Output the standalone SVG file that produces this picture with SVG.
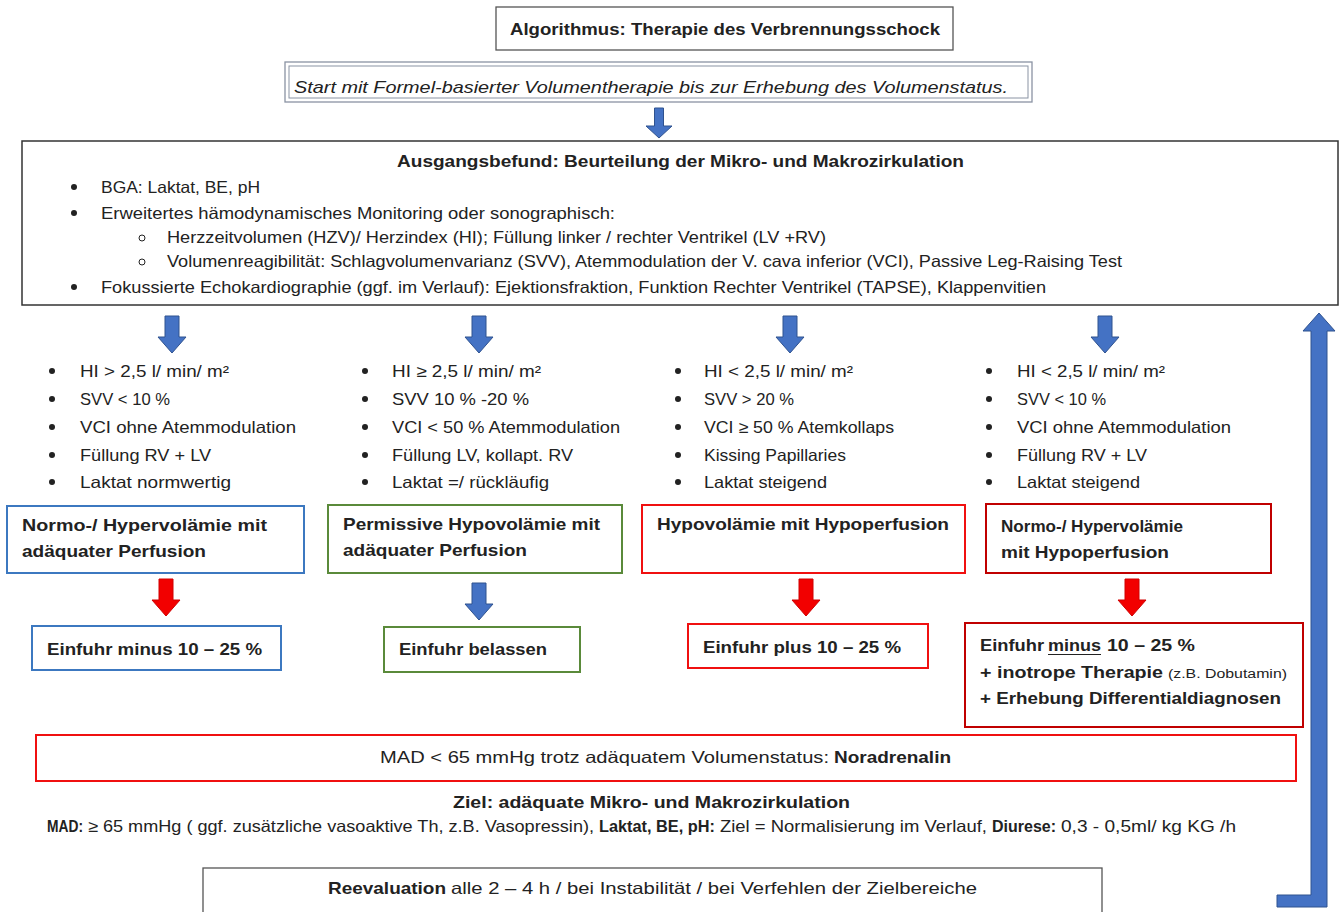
<svg xmlns="http://www.w3.org/2000/svg" width="1341" height="912" viewBox="0 0 1341 912">
<style>
.t{font-family:"Liberation Sans",Arial,sans-serif;font-size:16.5px;fill:#222}
.b{font-weight:bold}
.i{font-style:italic}
.s{font-size:12px}
.blue{stroke:#3c78c0;stroke-width:2;fill:#fff}
.green{stroke:#5a8a3a;stroke-width:2;fill:#fff}
.red{stroke:#f01010;stroke-width:2;fill:#fff}
.dred{stroke:#c00000;stroke-width:2;fill:#fff}
.ab{fill:#4472c4;stroke:#2f528f;stroke-width:1}
.ar{fill:#f20000;stroke:#d00000;stroke-width:1}
.dot{fill:#222}
.ring{fill:none;stroke:#222;stroke-width:1}
</style>
<defs>
<path id="down" d="M-7,0 H7 V21 H14 L0,37 L-14,21 H-7 Z"/>
</defs>
<rect width="1341" height="912" fill="#fff"/>

<g id="connectors">
<path class="ab" d="M654.5,108 H663.5 V126 H672 L659,138 L646,126 H654.5 Z"/>
<use href="#down" class="ab" x="172" y="316"/>
<use href="#down" class="ab" x="479" y="316"/>
<use href="#down" class="ab" x="790" y="316"/>
<use href="#down" class="ab" x="1105" y="316"/>
<use href="#down" class="ar" x="166" y="579"/>
<use href="#down" class="ab" x="479" y="583"/>
<use href="#down" class="ar" x="806" y="579"/>
<use href="#down" class="ar" x="1132" y="579"/>
<path class="ab" d="M1277,895 H1311 V331 H1303 L1319,313 L1335,331 H1327 V907 H1277 Z"/>
</g>

<g id="title">
<rect x="496" y="7" width="457" height="43" fill="#fff" stroke="#555" stroke-width="1.3"/>
<text class="t b" x="510" y="35" textLength="430" lengthAdjust="spacingAndGlyphs">Algorithmus: Therapie des Verbrennungsschock</text>
</g>

<g id="start">
<rect x="285" y="62" width="747" height="40" fill="#fff" stroke="#8a93a3" stroke-width="1.3"/>
<rect x="289" y="66" width="739" height="32" fill="none" stroke="#8a93a3" stroke-width="1"/>
<text class="t i" x="294" y="93" textLength="714" lengthAdjust="spacingAndGlyphs">Start mit Formel-basierter Volumentherapie bis zur Erhebung des Volumenstatus.</text>
</g>

<g id="ausgangsbefund">
<rect x="22" y="141" width="1316" height="164" fill="#fff" stroke="#333" stroke-width="1.5"/>
<text class="t b" x="397" y="167" textLength="567" lengthAdjust="spacingAndGlyphs">Ausgangsbefund: Beurteilung der Mikro- und Makrozirkulation</text>
<circle class="dot" cx="74" cy="187" r="3"/>
<text class="t" x="101" y="193" textLength="159" lengthAdjust="spacingAndGlyphs">BGA: Laktat, BE, pH</text>
<circle class="dot" cx="74" cy="213" r="3"/>
<text class="t" x="101" y="219" textLength="514" lengthAdjust="spacingAndGlyphs">Erweitertes hämodynamisches Monitoring oder sonographisch:</text>
<circle class="ring" cx="142" cy="238" r="3"/>
<text class="t" x="167" y="243" textLength="659" lengthAdjust="spacingAndGlyphs">Herzzeitvolumen (HZV)/ Herzindex (HI); Füllung linker / rechter Ventrikel (LV +RV)</text>
<circle class="ring" cx="142" cy="262" r="3"/>
<text class="t" x="167" y="267" textLength="955" lengthAdjust="spacingAndGlyphs">Volumenreagibilität:  Schlagvolumenvarianz (SVV), Atemmodulation der V. cava inferior (VCI), Passive Leg-Raising Test</text>
<circle class="dot" cx="74" cy="287" r="3"/>
<text class="t" x="101" y="293" textLength="945" lengthAdjust="spacingAndGlyphs">Fokussierte Echokardiographie (ggf. im Verlauf): Ejektionsfraktion, Funktion Rechter Ventrikel (TAPSE), Klappenvitien</text>
</g>

<g id="list1">
<circle class="dot" cx="52" cy="371" r="3"/><text class="t" x="80" y="377" textLength="149" lengthAdjust="spacingAndGlyphs">HI &gt; 2,5 l/ min/ m²</text>
<circle class="dot" cx="52" cy="399" r="3"/><text class="t" x="80" y="405" textLength="90" lengthAdjust="spacingAndGlyphs">SVV &lt; 10 %</text>
<circle class="dot" cx="52" cy="427" r="3"/><text class="t" x="80" y="433" textLength="216" lengthAdjust="spacingAndGlyphs">VCI ohne Atemmodulation</text>
<circle class="dot" cx="52" cy="455" r="3"/><text class="t" x="80" y="461" textLength="131" lengthAdjust="spacingAndGlyphs">Füllung RV + LV</text>
<circle class="dot" cx="52" cy="482" r="3"/><text class="t" x="80" y="488" textLength="151" lengthAdjust="spacingAndGlyphs">Laktat normwertig</text>
</g>
<g id="list2">
<circle class="dot" cx="365" cy="371" r="3"/><text class="t" x="392" y="377" textLength="149" lengthAdjust="spacingAndGlyphs">HI ≥ 2,5 l/ min/ m²</text>
<circle class="dot" cx="365" cy="399" r="3"/><text class="t" x="392" y="405" textLength="137" lengthAdjust="spacingAndGlyphs">SVV  10 % -20 %</text>
<circle class="dot" cx="365" cy="427" r="3"/><text class="t" x="392" y="433" textLength="228" lengthAdjust="spacingAndGlyphs">VCI &lt; 50 % Atemmodulation</text>
<circle class="dot" cx="365" cy="455" r="3"/><text class="t" x="392" y="461" textLength="181" lengthAdjust="spacingAndGlyphs">Füllung LV, kollapt. RV</text>
<circle class="dot" cx="365" cy="482" r="3"/><text class="t" x="392" y="488" textLength="157" lengthAdjust="spacingAndGlyphs">Laktat =/ rückläufig</text>
</g>
<g id="list3">
<circle class="dot" cx="678" cy="371" r="3"/><text class="t" x="704" y="377" textLength="149" lengthAdjust="spacingAndGlyphs">HI &lt; 2,5 l/ min/ m²</text>
<circle class="dot" cx="678" cy="399" r="3"/><text class="t" x="704" y="405" textLength="90" lengthAdjust="spacingAndGlyphs">SVV &gt; 20 %</text>
<circle class="dot" cx="678" cy="427" r="3"/><text class="t" x="704" y="433" textLength="190" lengthAdjust="spacingAndGlyphs">VCI ≥ 50 % Atemkollaps</text>
<circle class="dot" cx="678" cy="455" r="3"/><text class="t" x="704" y="461" textLength="142" lengthAdjust="spacingAndGlyphs">Kissing Papillaries</text>
<circle class="dot" cx="678" cy="482" r="3"/><text class="t" x="704" y="488" textLength="123" lengthAdjust="spacingAndGlyphs">Laktat steigend</text>
</g>
<g id="list4">
<circle class="dot" cx="989" cy="371" r="3"/><text class="t" x="1017" y="377" textLength="148" lengthAdjust="spacingAndGlyphs">HI &lt; 2,5 l/ min/ m²</text>
<circle class="dot" cx="989" cy="399" r="3"/><text class="t" x="1017" y="405" textLength="89" lengthAdjust="spacingAndGlyphs">SVV &lt; 10 %</text>
<circle class="dot" cx="989" cy="427" r="3"/><text class="t" x="1017" y="433" textLength="214" lengthAdjust="spacingAndGlyphs">VCI ohne Atemmodulation</text>
<circle class="dot" cx="989" cy="455" r="3"/><text class="t" x="1017" y="461" textLength="130" lengthAdjust="spacingAndGlyphs">Füllung RV + LV</text>
<circle class="dot" cx="989" cy="482" r="3"/><text class="t" x="1017" y="488" textLength="123" lengthAdjust="spacingAndGlyphs">Laktat steigend</text>
</g>

<g id="state1">
<rect class="blue" x="7" y="506" width="297" height="67"/>
<text class="t b" x="22" y="531" textLength="245" lengthAdjust="spacingAndGlyphs">Normo-/ Hypervolämie mit</text>
<text class="t b" x="22" y="557" textLength="184" lengthAdjust="spacingAndGlyphs">adäquater Perfusion</text>
</g>
<g id="state2">
<rect class="green" x="328" y="505" width="294" height="68"/>
<text class="t b" x="343" y="530" textLength="257" lengthAdjust="spacingAndGlyphs">Permissive Hypovolämie mit</text>
<text class="t b" x="343" y="556" textLength="184" lengthAdjust="spacingAndGlyphs">adäquater Perfusion</text>
</g>
<g id="state3">
<rect class="red" x="642" y="505" width="323" height="68"/>
<text class="t b" x="657" y="530" textLength="292" lengthAdjust="spacingAndGlyphs">Hypovolämie mit Hypoperfusion</text>
</g>
<g id="state4">
<rect class="dred" x="986" y="504" width="285" height="69"/>
<text class="t b" x="1001" y="532" textLength="182" lengthAdjust="spacingAndGlyphs">Normo-/ Hypervolämie</text>
<text class="t b" x="1001" y="558" textLength="168" lengthAdjust="spacingAndGlyphs">mit Hypoperfusion</text>
</g>

<g id="action1">
<rect class="blue" x="32" y="626" width="249" height="44"/>
<text class="t b" x="47" y="655" textLength="215" lengthAdjust="spacingAndGlyphs">Einfuhr minus 10 – 25 %</text>
</g>
<g id="action2">
<rect class="green" x="384" y="627" width="196" height="45"/>
<text class="t b" x="399" y="655" textLength="148" lengthAdjust="spacingAndGlyphs">Einfuhr belassen</text>
</g>
<g id="action3">
<rect class="red" x="688" y="624" width="240" height="44"/>
<text class="t b" x="703" y="653" textLength="198" lengthAdjust="spacingAndGlyphs">Einfuhr plus 10 – 25 %</text>
</g>
<g id="action4">
<rect class="dred" x="965" y="623" width="338" height="104"/>
<text class="t b" x="980" y="651" textLength="64" lengthAdjust="spacingAndGlyphs">Einfuhr</text>
<text class="t b" x="1048" y="651" textLength="53" lengthAdjust="spacingAndGlyphs">minus</text>
<line x1="1048" y1="654.5" x2="1101" y2="654.5" stroke="#222" stroke-width="1"/>
<text class="t b" x="1107" y="651" textLength="88" lengthAdjust="spacingAndGlyphs">10 – 25 %</text>
<text class="t b" x="980" y="678" textLength="183" lengthAdjust="spacingAndGlyphs">+ inotrope Therapie</text>
<text class="t s" x="1168" y="678" textLength="119" lengthAdjust="spacingAndGlyphs">(z.B. Dobutamin)</text>
<text class="t b" x="980" y="704" textLength="301" lengthAdjust="spacingAndGlyphs">+ Erhebung Differentialdiagnosen</text>
</g>

<g id="mad">
<rect class="red" x="36" y="735" width="1260" height="46"/>
<text class="t" x="380" y="763" textLength="449" lengthAdjust="spacingAndGlyphs">MAD &lt; 65 mmHg trotz adäquatem Volumenstatus:</text>
<text class="t b" x="834" y="763" textLength="117" lengthAdjust="spacingAndGlyphs">Noradrenalin</text>
</g>

<g id="ziel">
<text class="t b" x="453" y="808" textLength="397" lengthAdjust="spacingAndGlyphs">Ziel: adäquate Mikro- und Makrozirkulation</text>
<text class="t b" x="47" y="832" textLength="36" lengthAdjust="spacingAndGlyphs">MAD:</text>
<text class="t" x="88" y="832" textLength="506" lengthAdjust="spacingAndGlyphs">≥ 65 mmHg ( ggf. zusätzliche vasoaktive Th, z.B. Vasopressin),</text>
<text class="t b" x="599" y="832" textLength="116" lengthAdjust="spacingAndGlyphs">Laktat, BE, pH:</text>
<text class="t" x="720" y="832" textLength="267" lengthAdjust="spacingAndGlyphs">Ziel = Normalisierung im Verlauf,</text>
<text class="t b" x="992" y="832" textLength="64" lengthAdjust="spacingAndGlyphs">Diurese:</text>
<text class="t" x="1061" y="832" textLength="175" lengthAdjust="spacingAndGlyphs">0,3 - 0,5ml/ kg KG /h</text>
</g>

<g id="reevaluation">
<rect x="203" y="868" width="899" height="50" fill="#fff" stroke="#555" stroke-width="1.3"/>
<text class="t b" x="328" y="894" textLength="118" lengthAdjust="spacingAndGlyphs">Reevaluation</text>
<text class="t" x="451" y="894" textLength="526" lengthAdjust="spacingAndGlyphs">alle 2 – 4 h / bei Instabilität / bei Verfehlen der Zielbereiche</text>
</g>
</svg>
